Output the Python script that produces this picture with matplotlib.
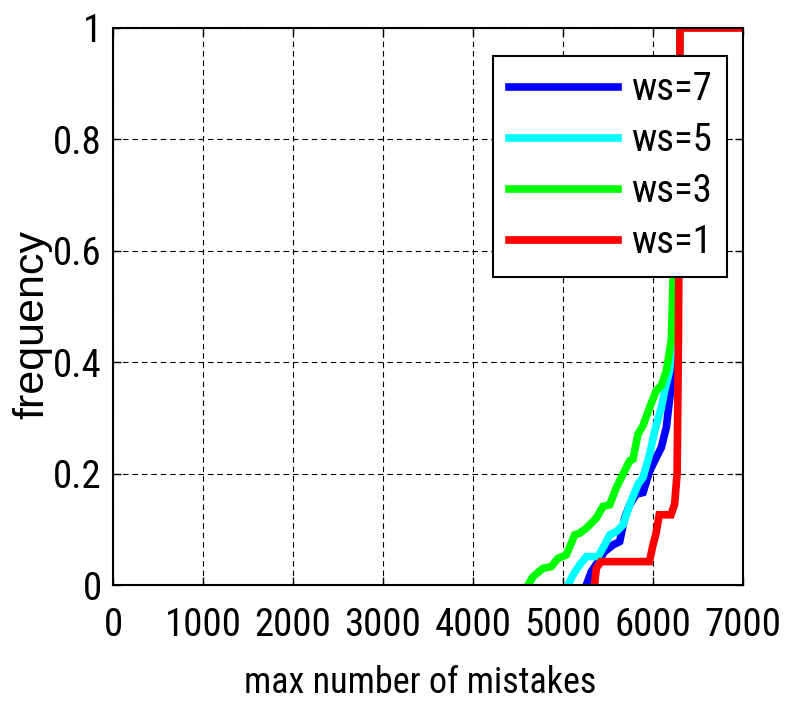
import matplotlib
matplotlib.use("Agg")
import matplotlib.pyplot as plt
from matplotlib.ticker import FuncFormatter

# curve points (max number of mistakes, frequency)
ws7_x = [5259, 5315, 5389, 5463, 5556, 5630, 5685, 5741, 5815, 5889, 5963, 6093, 6148, 6204, 6222, 6268, 6290, 6300]
ws7_y = [0.0, 0.024, 0.042, 0.060, 0.072, 0.078, 0.120, 0.144, 0.163, 0.166, 0.205, 0.247, 0.283, 0.361, 0.379, 0.45, 0.8, 1.0]

ws5_x = [5056, 5111, 5185, 5259, 5389, 5463, 5519, 5593, 5667, 5741, 5833, 5889, 5963, 6019, 6093, 6130, 6185, 6210,
         6270, 6290, 6300]
ws5_y = [0.0, 0.018, 0.036, 0.051, 0.051, 0.072, 0.090, 0.096, 0.108, 0.144, 0.181, 0.193, 0.235, 0.277, 0.319, 0.349,
         0.385, 0.427, 0.5, 0.8, 1.0]

ws3_x = [4611, 4667, 4778, 4870, 4944, 5037, 5130, 5185, 5259, 5370, 5444, 5519, 5593, 5630, 5685,
         5741, 5778, 5833, 5889, 5963, 6037, 6093, 6148, 6204, 6222, 6270, 6290, 6300]
ws3_y = [0.0, 0.015, 0.030, 0.033, 0.048, 0.054, 0.090, 0.093, 0.102, 0.120, 0.141, 0.144, 0.175, 0.187, 0.205,
         0.223, 0.226, 0.271, 0.286, 0.319, 0.349, 0.358, 0.385, 0.440, 0.548, 0.6, 0.8, 1.0]

ws1_x = [5350, 5370, 5420, 5960, 6000, 6030, 6070, 6200, 6240, 6268, 6283, 6300, 6300, 7000]
ws1_y = [0.0, 0.03, 0.042, 0.042, 0.072, 0.09, 0.126, 0.126, 0.145, 0.2, 0.45, 0.99, 1.0, 1.0]

series = [
    ("ws=7", ws7_x, ws7_y, "#0000ff"),
    ("ws=5", ws5_x, ws5_y, "#00ffff"),
    ("ws=3", ws3_x, ws3_y, "#00ff00"),
    ("ws=1", ws1_x, ws1_y, "#ff0000"),
]

narrow = ["Liberation Sans Narrow", "Roboto Condensed", "Archivo Narrow", "Liberation Sans"]
regular = ["Liberation Sans", "DejaVu Sans"]

fig = plt.figure(figsize=(7.85, 7.01), dpi=100)
ax = fig.add_axes([113 / 785, 1 - 585 / 701, 630 / 785, 557 / 701])

for label, xs, ys, color in series:
    ax.plot(xs, ys, color=color, lw=5.5, label=label, solid_joinstyle="miter")

ax.set_xlim(0, 7000)
ax.set_ylim(0, 1)
ax.set_xticks(range(0, 7001, 1000))
ax.set_yticks([0, 0.2, 0.4, 0.6, 0.8, 1.0])
ax.yaxis.set_major_formatter(FuncFormatter(lambda v, p: "%g" % v))

ax.grid(True, color="black", lw=0.8, linestyle=(0, (5, 3.5)))
ax.tick_params(direction="in", length=6, width=1, top=True, right=True)
ax.tick_params(axis="x", pad=16)
ax.tick_params(axis="y", pad=8)
for lab in ax.get_xticklabels() + ax.get_yticklabels():
    lab.set_family(narrow)
    lab.set_fontsize(28)
for sp in ax.spines.values():
    sp.set_linewidth(1.5)

ax.set_xlabel("max number of mistakes", family=narrow, fontsize=26, va="center")
ax.xaxis.set_label_coords(0.487, -0.176)
ax.set_ylabel("frequency", family=regular, fontsize=31, va="center")
ax.yaxis.set_label_coords(-0.1286, 0.467)

leg = ax.legend(loc="upper right", bbox_to_anchor=(0.9746, 0.95), borderaxespad=0,
                prop={"family": narrow, "size": 28}, handlelength=2.8, handletextpad=0.33,
                labelspacing=0.36, borderpad=0.4, fancybox=False, framealpha=1)
leg.get_frame().set_edgecolor("black")
leg.get_frame().set_linewidth(1.5)

fig.savefig("out.png", dpi=100)
